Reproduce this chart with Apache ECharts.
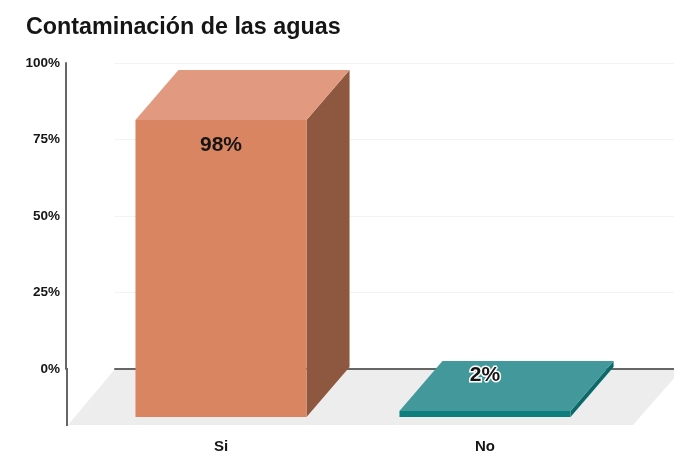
<!DOCTYPE html>
<html><head><meta charset="utf-8">
<style>html,body{margin:0;padding:0;background:#fff}#c{width:674px;height:458px}</style>
<script src="https://cdn.jsdelivr.net/npm/echarts@6/dist/echarts.min.js"></script>
</head><body><div id="c"></div>
<script>
const titleText = 'Contaminación de las aguas';
const categories = ['Si', 'No'];
const percentages = [98, 2];
const tickValues = [0, 25, 50, 75, 100];

const FONT = '"Liberation Sans", Arial, sans-serif';
const DEPTH_X = 43, DEPTH_Y = -50, BAR_RATIO = 0.648;
const palette = [
  { front: '#DA8562', top: '#E19A7F', side: '#8E5840' },
  { front: '#0F7F7E', top: '#42989A', side: '#0B6A69' }
];

function renderBar(params, api) {
  const i = api.value(0), v = api.value(1);
  const base = api.coord([i, 0]), top = api.coord([i, v]);
  const w = api.size([1, 0])[0] * BAR_RATIO;
  const x0 = base[0] - w / 2, x1 = base[0] + w / 2;
  const yB = base[1], yT = top[1];
  const c = palette[i];
  const poly = (points, fill) => ({ type: 'polygon', shape: { points }, style: { fill } });
  const tall = v > 50;
  return {
    type: 'group',
    children: [
      poly([[x1, yB], [x1 + DEPTH_X, yB + DEPTH_Y], [x1 + DEPTH_X, yT + DEPTH_Y], [x1, yT]], c.side),
      poly([[x0, yT], [x0 + DEPTH_X, yT + DEPTH_Y], [x1 + DEPTH_X, yT + DEPTH_Y], [x1, yT]], c.top),
      { type: 'rect', shape: { x: x0, y: yT, width: w, height: yB - yT }, style: { fill: c.front } },
      { type: 'text', z2: 10, style: {
          text: v + '%', x: base[0], y: tall ? yT + 25 : yT + DEPTH_Y + 14,
          align: 'center', verticalAlign: 'middle',
          font: 'bold 21px ' + FONT, fill: '#151515',
          stroke: tall ? null : '#ffffff', lineWidth: tall ? 0 : 3
      } }
    ]
  };
}

const chart = echarts.init(document.getElementById('c'), null, { renderer: 'canvas' });
chart.setOption({
  animation: false,
  backgroundColor: '#fff',
  title: { text: titleText, left: 21, top: 11, textStyle: { fontFamily: FONT, fontWeight: 'bold', fontSize: 23.3, color: '#151515' } },
  grid: [
    { left: 115, right: 0, top: 63, bottom: 89 },
    { left: 89, width: 528, top: 114, bottom: 41 }
  ],
  xAxis: [
    { gridIndex: 0, type: 'category', data: categories, axisTick: { show: false }, axisLabel: { show: false },
      axisLine: { lineStyle: { color: '#666', width: 2 } } },
    { gridIndex: 1, type: 'category', data: categories, axisTick: { show: false },
      axisLine: { show: false },
      axisLabel: { margin: 22, fontFamily: FONT, fontWeight: 'bold', fontSize: 15, color: '#151515' } }
  ],
  yAxis: [
    { gridIndex: 0, type: 'value', min: tickValues[0], max: tickValues[tickValues.length - 1], interval: 25, offset: 49,
      axisLine: { show: true, lineStyle: { color: '#666', width: 2 } }, axisTick: { show: false },
      axisLabel: { margin: 6, formatter: '{value}%', fontFamily: FONT, fontWeight: 'bold', fontSize: 13.5, color: '#151515' },
      splitLine: { show: true, lineStyle: { color: '#F3F3F3', width: 1 } } },
    { gridIndex: 1, type: 'value', min: 0, max: 100, show: false, splitLine: { show: false } }
  ],
  graphic: [
    { type: 'polygon', z: 0, shape: { points: [[68, 425], [115, 369], [682, 369], [633, 425]] }, style: { fill: '#EDEDED' } },
    { type: 'line', z: 1, shape: { x1: 67, y1: 368, x2: 67, y2: 426 }, style: { stroke: '#666', lineWidth: 2 } }
  ],
  series: [{
    type: 'custom', xAxisIndex: 1, yAxisIndex: 1, z: 5, clip: false,
    encode: { x: 0, y: 1 },
    data: percentages.map((v, i) => [i, v]),
    renderItem: renderBar
  }]
});
</script></body></html>
